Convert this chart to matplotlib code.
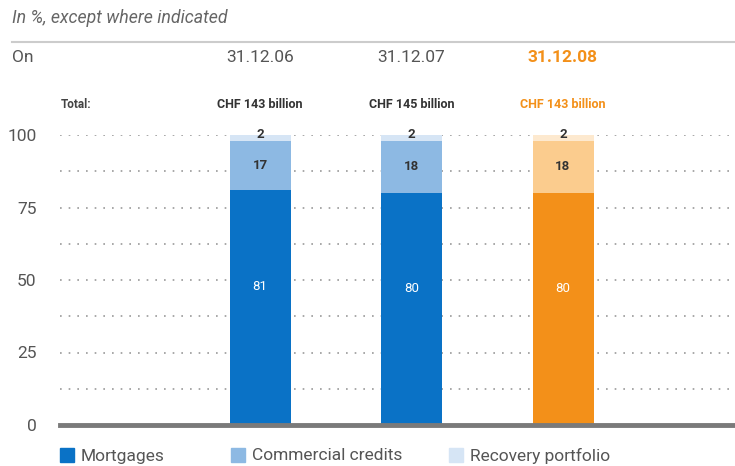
import matplotlib.pyplot as plt
from matplotlib.patches import Rectangle
from matplotlib.transforms import blended_transform_factory

plt.rcParams['font.family'] = ['Roboto', 'DejaVu Sans']

# ---------------- data ----------------
dates = ["31.12.06", "31.12.07", "31.12.08"]
totals = ["CHF 143 billion", "CHF 145 billion", "CHF 143 billion"]
mortgages = [81, 80, 80]
commercial = [17, 18, 18]
recovery = [2, 2, 2]
series_names = ["Mortgages", "Commercial credits", "Recovery portfolio"]

# ---------------- colours ----------------
blue = ["#0a72c6", "#8db9e3", "#d6e5f5"]
orange = ["#f39019", "#fbcc8e", "#fde9cf"]
grey_txt = "#555555"

fig = plt.figure(figsize=(7.35, 4.66), dpi=100)
W, H = 735, 466
ax = fig.add_axes([60 / W, 1 - 425 / H, 1 - 60 / W, (425 - 135) / H])

x = list(range(len(dates)))
spacing = 151.5
ax.set_xlim(-(260 - 60) / spacing, 2 + (735 - 563) / spacing)
ax.set_ylim(0, 100)
bw = 61 / spacing

# dotted grid
for g in [12.5 * i for i in range(1, 9)]:
    ax.axhline(g, color="#999999", lw=1.2, ls=(0, (1, 4.2)), zorder=0)
ax.axhline(0, color="#7a7a7a", lw=3.5, zorder=3, clip_on=False)

for i in x:
    cols = orange if i == 2 else blue
    ax.bar(i, mortgages[i], width=bw, color=cols[0], zorder=2)
    ax.bar(i, commercial[i], width=bw, bottom=mortgages[i], color=cols[1], zorder=2)
    ax.bar(i, recovery[i], width=bw, bottom=mortgages[i] + commercial[i], color=cols[2], zorder=2)
    ax.text(i, mortgages[i] * 0.59, str(mortgages[i]), ha="center", va="center",
            color="white", fontsize=9.5)
    ax.text(i, mortgages[i] + commercial[i] / 2, str(commercial[i]), ha="center",
            va="center", color="#333333", fontsize=9.5, fontweight="bold")
    ax.text(i, 100.3, str(recovery[i]), ha="center", va="center",
            color="#333333", fontsize=9.5, fontweight="bold", clip_on=False)

ax.set_yticks([0, 25, 50, 75, 100])
ax.tick_params(axis="y", length=0, pad=17, labelsize=12.5, labelcolor=grey_txt)
ax.set_xticks([])
for s in ax.spines.values():
    s.set_visible(False)

# header
tr = blended_transform_factory(ax.transData, fig.transFigure)
fig.text(12 / W, 1 - 18 / H, "In %, except where indicated", style="italic",
         fontsize=12.8, color="#666666", va="center")
fig.add_artist(plt.Line2D([12 / W, 1], [1 - 42 / H, 1 - 42 / H], color="#cccccc", lw=1.5))
fig.text(12 / W, 1 - 57 / H, "On", fontsize=12.5, color=grey_txt, va="center")
fig.text(61 / W, 1 - 104 / H, "Total:", fontsize=8.5, fontweight="bold",
         color="#444444", va="center")
for i in x:
    c = orange[0] if i == 2 else grey_txt
    ax.text(i, 1 - 57 / H, dates[i], transform=tr, ha="center", va="center",
            fontsize=12.5, color=c, fontweight="bold" if i == 2 else "normal")
    c2 = orange[0] if i == 2 else "#333333"
    ax.text(i, 1 - 104 / H, totals[i], transform=tr, ha="center", va="center",
            fontsize=9, color=c2, fontweight="bold")

# legend
leg_x = [60, 231, 449]
for k, name in enumerate(series_names):
    fig.add_artist(Rectangle((leg_x[k] / W, 1 - 462 / H), 14 / W, 14 / H,
                             color=blue[k], transform=fig.transFigure))
    fig.text((leg_x[k] + 21) / W, 1 - 456 / H, name, fontsize=12.5,
             color=grey_txt, va="center")

fig.savefig("out.png", dpi=100)
